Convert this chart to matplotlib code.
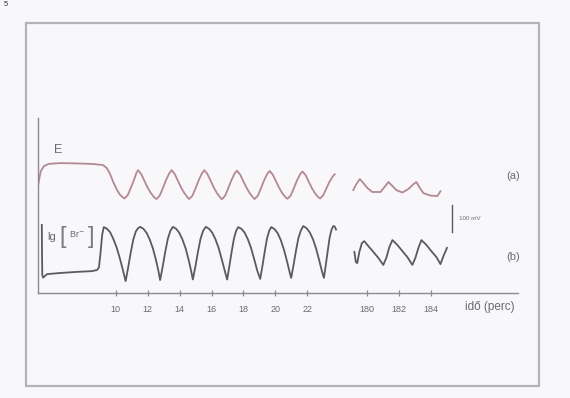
import matplotlib
matplotlib.use("Agg")
import matplotlib.pyplot as plt
from matplotlib.patches import Rectangle

plt.rcParams['font.family'] = ['Liberation Sans', 'DejaVu Sans']

# --- potential E (mV), first recording window (minutes) ---
e1_t = [5.13, 5.2, 5.3, 5.5, 5.8, 6.5, 7.5, 8.5, 9.2, 9.45, 9.65, 9.85, 10.05, 10.25, 10.45, 10.55,
        10.75, 10.95, 11.15, 11.3, 11.4,
        11.6, 11.8, 12.0, 12.2, 12.4, 12.55,
        12.75, 12.95, 13.15, 13.35, 13.5,
        13.7, 13.9, 14.1, 14.3, 14.5, 14.6,
        14.8, 15.0, 15.2, 15.4, 15.55,
        15.75, 15.95, 16.15, 16.35, 16.55, 16.65,
        16.85, 17.05, 17.25, 17.45, 17.6,
        17.8, 18.0, 18.2, 18.4, 18.6, 18.7,
        18.9, 19.1, 19.3, 19.5, 19.65,
        19.85, 20.05, 20.25, 20.45, 20.65, 20.75,
        20.95, 21.15, 21.35, 21.55, 21.7,
        21.9, 22.1, 22.3, 22.5, 22.7, 22.8,
        23.0, 23.2, 23.4, 23.6, 23.72]
e1_v = [395, 420, 450, 470, 478, 481, 480, 478, 474, 462, 440, 410, 385, 365, 354, 350,
        362, 390, 420, 445, 455,
        440, 415, 390, 370, 355, 348,
        360, 388, 418, 443, 455,
        440, 415, 390, 370, 354, 348,
        360, 388, 418, 443, 455,
        440, 415, 390, 369, 353, 347,
        360, 388, 418, 443, 453,
        438, 413, 389, 369, 354, 348,
        360, 388, 418, 442, 452,
        437, 412, 388, 368, 354, 349,
        360, 387, 416, 440, 450,
        436, 411, 387, 368, 354, 350,
        362, 388, 413, 432, 440]

# --- potential E (mV), late recording window ---
e2_t = [179.15, 179.34, 179.56, 179.78, 180.03, 180.34, 180.85, 181.16, 181.35, 181.54,
        181.85, 182.23, 182.60, 182.92, 183.10, 183.29, 183.54, 183.98, 184.42, 184.61]
e2_v = [381, 403, 422, 407, 389, 374, 374, 396, 411, 400,
        381, 372, 385, 403, 411, 392, 370, 361, 359, 377]

# --- lg[Br-] (same vertical scale), first window ---
b1_t = [5.37, 5.38, 5.4, 5.45, 5.7, 6.5, 7.5, 8.5, 8.83, 8.95, 9.05, 9.15, 9.25,
        9.45, 9.65, 9.85, 10.05, 10.25, 10.45, 10.62,
        10.78, 10.94, 11.1, 11.26, 11.4, 11.53,
        11.73, 11.93, 12.13, 12.33, 12.53, 12.68, 12.78,
        12.94, 13.1, 13.26, 13.42, 13.58,
        13.78, 13.98, 14.18, 14.38, 14.58, 14.73, 14.83,
        14.99, 15.15, 15.31, 15.47, 15.64,
        15.84, 16.04, 16.24, 16.44, 16.64, 16.84, 16.98,
        17.12, 17.26, 17.4, 17.54, 17.67,
        17.87, 18.07, 18.27, 18.47, 18.67, 18.87, 19.05,
        19.19, 19.33, 19.47, 19.61, 19.74,
        19.94, 20.14, 20.34, 20.54, 20.74, 20.89, 20.99,
        21.14, 21.29, 21.44, 21.6, 21.75,
        21.95, 22.15, 22.35, 22.55, 22.75, 22.92, 23.04,
        23.16, 23.28, 23.4, 23.52, 23.63, 23.72, 23.8]
b1_v = [252, 159, 67, 57, 70, 74, 78, 81, 85, 95, 150, 215, 244,
        238, 225, 200, 170, 130, 85, 44,
        95, 150, 198, 228, 240, 245,
        238, 223, 198, 165, 120, 80, 48,
        97, 152, 200, 230, 245,
        238, 223, 198, 165, 120, 80, 50,
        98, 152, 200, 230, 245,
        238, 224, 200, 168, 125, 80, 50,
        100, 152, 200, 230, 244,
        238, 224, 200, 168, 126, 82, 52,
        100, 152, 200, 230, 244,
        237, 222, 196, 160, 115, 78, 56,
        104, 156, 203, 232, 248,
        240, 225, 200, 165, 120, 80, 56,
        104, 156, 205, 235, 248, 246, 235]

# --- lg[Br-], late window ---
b2_t = [179.22, 179.31, 179.40, 179.53, 179.69, 179.84, 180.09, 180.41, 180.72, 181.03,
        181.22, 181.41, 181.60, 181.91, 182.23, 182.54, 182.85, 183.04, 183.23, 183.42,
        183.73, 184.04, 184.36, 184.61, 184.80, 185.02]
b2_v = [152, 115, 111, 152, 185, 192, 174, 152, 130, 104,
        130, 170, 196, 178, 155, 133, 104, 130, 167, 196,
        178, 155, 133, 107, 137, 167]

# axis ticks
ticks_early = [10, 12, 14, 16, 18, 20, 22]
ticks_late = [180, 182, 184]
late_shift = 154.27        # horizontal gap removed between the two windows
scale_bar_mv = 100
scale_bar_x = 31.07
scale_bar_y0 = 226

col_e = '#b58892'
col_b = '#5a5a60'
col_axis = '#8c8c90'

fig = plt.figure(figsize=(5.70, 3.98), dpi=100)
fig.patch.set_facecolor('#f8f8fa')

# outer frame
fig.patches.append(Rectangle((0.0456, 0.0302), 0.900, 0.912, transform=fig.transFigure,
                             fill=False, edgecolor='#b4b4b8', linewidth=1.6))

ax = fig.add_axes([0.0658, 0.2638, 0.843, 0.4397])
ax.set_facecolor('none')
ax.set_xlim(5.1, 35.2)
ax.set_ylim(0, 648)

for s in ('top', 'right'):
    ax.spines[s].set_visible(False)
for s in ('left', 'bottom'):
    ax.spines[s].set_color(col_axis)
    ax.spines[s].set_linewidth(1.0)

ax.plot(e1_t, e1_v, color=col_e, lw=1.3, solid_joinstyle='round')
ax.plot([t - late_shift for t in e2_t], e2_v, color=col_e, lw=1.3, solid_joinstyle='round')
ax.plot(b1_t, b1_v, color=col_b, lw=1.3, solid_joinstyle='round')
ax.plot([t - late_shift for t in b2_t], b2_v, color=col_b, lw=1.3, solid_joinstyle='round')

# 100 mV scale bar
ax.plot([scale_bar_x, scale_bar_x], [scale_bar_y0, scale_bar_y0 + scale_bar_mv],
        color=col_b, lw=1.0)
ax.text(scale_bar_x + 0.45, scale_bar_y0 + scale_bar_mv / 2, '100 mV', fontsize=4.5,
        color='#707075', ha='left', va='center')

positions = ticks_early + [t - late_shift for t in ticks_late]
labels = [str(t) for t in ticks_early + ticks_late]
ax.set_xticks(positions, labels)
ax.set_yticks([])
ax.tick_params(axis='x', direction='inout', length=5, width=0.9, color=col_axis,
               labelsize=6.5, labelcolor='#6a6a70', pad=6)

fig.text(0.8596, 0.2286, 'idő (perc)', fontsize=8.5, color='#6a6a70', ha='center', va='center')
fig.text(0.900, 0.5578, '(a)', fontsize=8, color='#6a6a70', ha='center', va='center')
fig.text(0.900, 0.3543, '(b)', fontsize=8, color='#6a6a70', ha='center', va='center')
fig.text(0.1018, 0.6231, 'E', fontsize=9, color='#6a6a70', ha='center', va='center')
fig.text(0.0912, 0.4045, 'lg', fontsize=8, color='#6a6a70', ha='center', va='center')
fig.text(0.1105, 0.4045, '[', fontsize=17, color='#7a7a80', ha='center', va='center',
         fontweight='light')
fig.text(0.1345, 0.4110, 'Br$^{-}$', fontsize=6.5, color='#6a6a70', ha='center', va='center')
fig.text(0.1600, 0.4045, ']', fontsize=17, color='#7a7a80', ha='center', va='center',
         fontweight='light')
fig.text(0.006, 0.998, '5', fontsize=5.5, color='#333333', ha='left', va='top')

fig.savefig('out.png', dpi=100, facecolor=fig.get_facecolor())
